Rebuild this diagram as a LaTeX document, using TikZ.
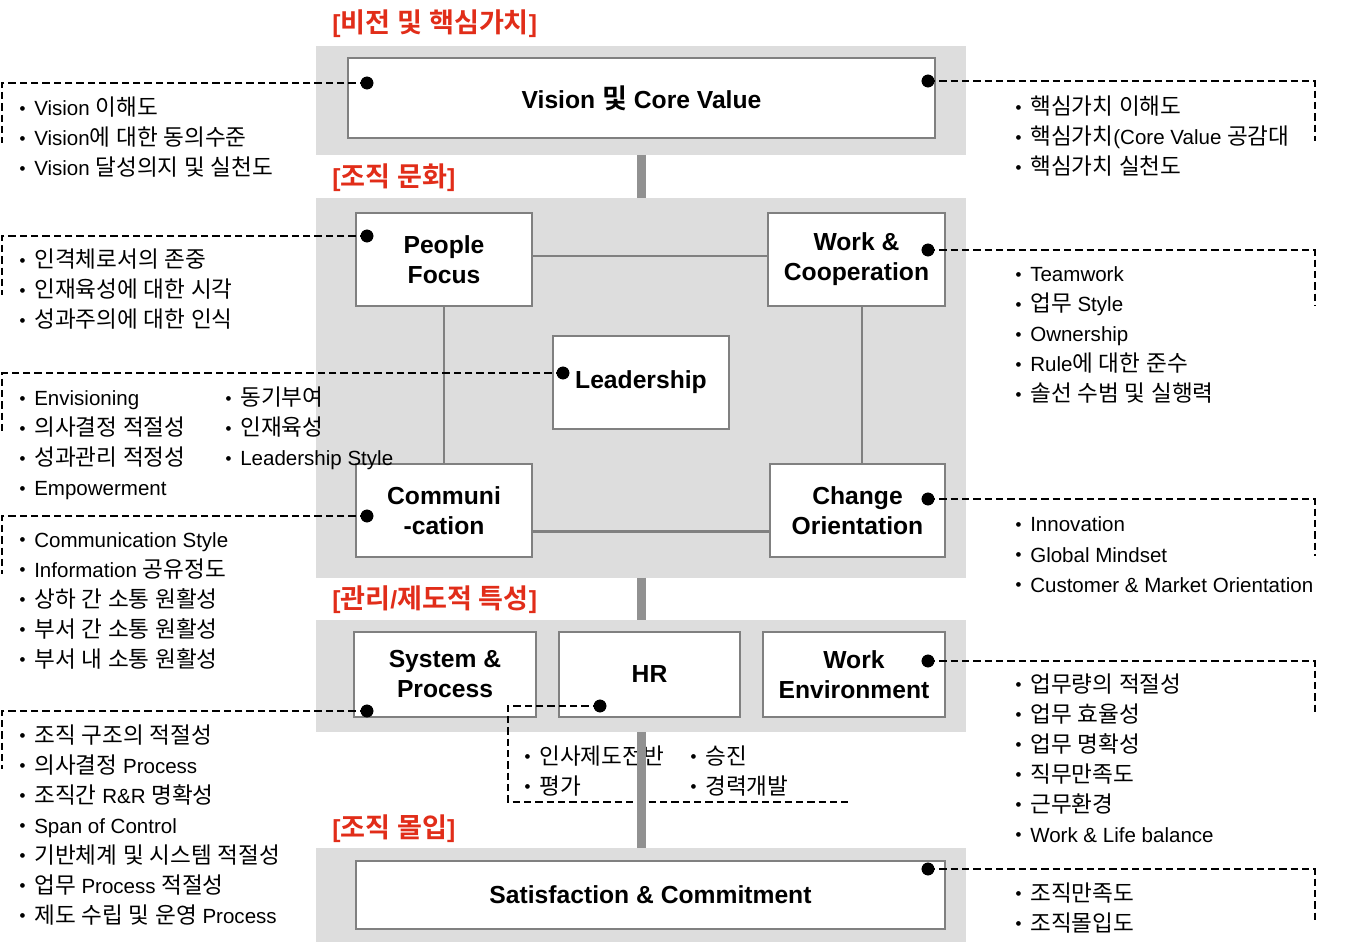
\documentclass[tikz,border=0pt]{standalone}
\usepackage{fontspec}
\setmainfont{Liberation Sans}
\newfontfamily\krfont{Noto Sans CJK KR}[Scale=1.1,BoldFont={Noto Sans CJK KR Bold}]
\newfontfamily\symfont{DejaVu Sans}
\newXeTeXintercharclass\krcls
\makeatletter
\count@="AC00
\loop\ifnum\count@<"D7A4
  \XeTeXcharclass\count@=\krcls
  \advance\count@\@ne
\repeat
\count@=0
\loop\ifnum\count@<\krcls
  \XeTeXinterchartoks\count@\krcls={\begingroup\krfont}%
  \XeTeXinterchartoks\krcls\count@={\endgroup}%
  \advance\count@\@ne
\repeat
\makeatother
\XeTeXinterchartoks 4095 \krcls={\begingroup\krfont}
\XeTeXinterchartoks \krcls 4095={\endgroup}
\XeTeXinterchartokenstate=1

\definecolor{panelgray}{RGB}{221,221,221}
\definecolor{bargray}{RGB}{145,145,145}
\definecolor{linkgray}{RGB}{128,128,128}
\definecolor{edgegray}{RGB}{128,128,128}
\definecolor{labred}{RGB}{225,45,25}

\newcommand\bul{\makebox[15pt][l]{\hspace{4.2pt}\raisebox{4.4pt}{\symfont\fontsize{4.6}{5}\selectfont ●}}}
\newcommand\rnode[7]{\node[#1, minimum width={(#5-#3)*0.75pt}, minimum height={(#6-#4)*0.75pt}] (#2) at ({(#3+#5)/2},{(#4+#6)/2}) {#7};}
\newcommand\itemlist[4]{\foreach \itm [count=\n] in {#4}{\node[item] (#1\n) at (#2,{#3+(\n-1)*30}) {\bul\itm};}}

\begin{document}
\begin{tikzpicture}[x=0.75pt,y=-0.75pt,
  panel/.style={fill=panelgray, inner sep=0pt, outer sep=0pt},
  box/.style={draw=edgegray, line width=0.8pt, fill=white, inner sep=0pt, outer sep=0pt, align=center, font=\fontsize{18.5}{22.5}\selectfont\bfseries},
  item/.style={anchor=base west, inner sep=0pt, font=\fontsize{15.4}{18}\selectfont},
  lab/.style={anchor=west, inner sep=0pt, text=labred, font=\fontsize{18.5}{22}\selectfont\bfseries},
  dot/.style={circle, fill=black, inner sep=0pt, minimum size=9.5pt},
  callout/.style={line width=1.5pt, dash pattern=on 5.5pt off 3pt},
  link/.style={draw=linkgray, line width=2.2pt},
  barlink/.style={draw=bargray, line width=6.75pt}
]
\useasboundingbox (0,0) rectangle (1354,948);

% panels
\rnode{panel}{p1}{316}{46}{966}{155}{}
\rnode{panel}{p2}{316}{198}{966}{578}{}
\rnode{panel}{p3}{316}{620}{966}{732}{}
\rnode{panel}{p4}{316}{848}{966}{942}{}

% boxes
\rnode{box}{vis}{348}{58}{935}{138}{Vision 및 Core Value}
\rnode{box}{pf}{356}{213}{532}{306}{People\\Focus}
\rnode{box}{wc}{768}{213}{945}{306}{Work \&\\Cooperation}
\rnode{box}{ld}{553}{336}{729}{429}{Leadership}
\rnode{box}{cm}{356}{464}{532}{557}{Communi\\-cation}
\rnode{box}{co}{770}{464}{945}{557}{Change\\Orientation}
\rnode{box}{sp}{354}{632}{536}{717}{System \&\\Process}
\rnode{box}{hr}{559}{632}{740}{717}{HR}
\rnode{box}{we}{763}{632}{945}{717}{Work\\Environment}
\rnode{box}{sc}{356}{861}{945}{929}{Satisfaction \& Commitment}

% links inside culture panel
\draw[link] ([yshift=2.6pt]pf.east) -- ([yshift=2.6pt]pf.east -| wc.west);
\draw[link] (pf.south) -- (pf.south |- cm.north);
\draw[link] ([xshift=4.1pt]wc.south) -- ([xshift=4.1pt]wc.south |- co.north);
\draw[link] ([yshift=-16.1pt]cm.east) -- ([yshift=-16.1pt]cm.east -| co.west);

% section labels
\node[lab] (l1) at (332,24) {[비전 및 핵심가치]};
\node[lab] (l2) at (332,178) {[조직 문화]};
\node[lab] (l3) at (332,600) {[관리/제도적 특성]};
\node[lab] (l4) at (332,829) {[조직 몰입]};

% item lists
\itemlist{va}{14}{116}{Vision 이해도, Vision에 대한 동의수준, Vision 달성의지 및 실천도}
\itemlist{vb}{1010}{115}{핵심가치 이해도, 핵심가치(Core Value 공감대, 핵심가치 실천도}
\itemlist{pa}{14}{268}{인격체로서의 존중, 인재육성에 대한 시각, 성과주의에 대한 인식}
\itemlist{wa}{1010}{282}{Teamwork, 업무 Style, Ownership, Rule에 대한 준수, 솔선 수범 및 실행력}
\itemlist{la}{14}{406}{Envisioning, 의사결정 적절성, 성과관리 적정성, Empowerment}
\itemlist{lb}{220}{406}{동기부여, 인재육성, Leadership Style}
\itemlist{ca}{14}{547}{Communication Style, Information 공유정도, 상하 간 소통 원활성, 부서 간 소통 원활성, 부서 내 소통 원활성}
\itemlist{oa}{1010}{532}{Innovation, Global Mindset, Customer \& Market Orientation}
\itemlist{sa}{14}{743}{조직 구조의 적절성, 의사결정 Process, 조직간 R\&R 명확성, Span of Control, 기반체계 및 시스템 적절성, 업무 Process 적절성, 제도 수립 및 운영 Process}
\itemlist{ha}{519}{764}{인사제도전반, 평가}
\itemlist{hb}{685}{764}{승진, 경력개발}
\itemlist{ea}{1010}{692}{업무량의 적절성, 업무 효율성, 업무 명확성, 직무만족도, 근무환경, Work \& Life balance}
\itemlist{ta}{1010}{901}{조직만족도, 조직몰입도}

% dots
\node[dot] (d1) at (367,83) {};
\node[dot] (d2) at (928,81) {};
\node[dot] (d3) at (367,236) {};
\node[dot] (d4) at (928,250) {};
\node[dot] (d5) at (563,373) {};
\node[dot] (d6) at (367,516) {};
\node[dot] (d7) at (928,499) {};
\node[dot] (d8) at (367,711) {};
\node[dot] (d9) at (600,706) {};
\node[dot] (d10) at (928,661) {};
\node[dot] (d11) at (928,869) {};

% callout ends
\coordinate (e1) at (2,143);
\coordinate (e2) at (1315,141);
\coordinate (e3) at (2,295);
\coordinate (e4) at (1315,306);
\coordinate (e5) at (2,432);
\coordinate (e6) at (2,574);
\coordinate (e7) at (1315,556);
\coordinate (e8) at (2,769);
\coordinate (c9) at (508,802);
\coordinate (e9) at (848,802);
\coordinate (e10) at (1315,715);
\coordinate (e11) at (1315,923);

\draw[callout] (d1.center) -| (e1);
\draw[callout] (d2.center) -| (e2);
\draw[callout] (d3.center) -| (e3);
\draw[callout] (d4.center) -| (e4);
\draw[callout] (d5.center) -| (e5);
\draw[callout] (d6.center) -| (e6);
\draw[callout] (d7.center) -| (e7);
\draw[callout] (d8.center) -| (e8);
\draw[callout] (d9.center) -| (c9) -- (e9);
\draw[callout] (d10.center) -| (e10);
\draw[callout] (d11.center) -| (e11);

\foreach \d in {d1,d2,d3,d4,d5,d6,d7,d8,d9,d10,d11} \fill (\d) circle (4.75pt);

% bars between panels
\draw[barlink] (p1.south) -- (p2.north);
\draw[barlink] (p2.south) -- (p3.north);
\draw[barlink] (p3.south) -- (p4.north);
\end{tikzpicture}
\end{document}
